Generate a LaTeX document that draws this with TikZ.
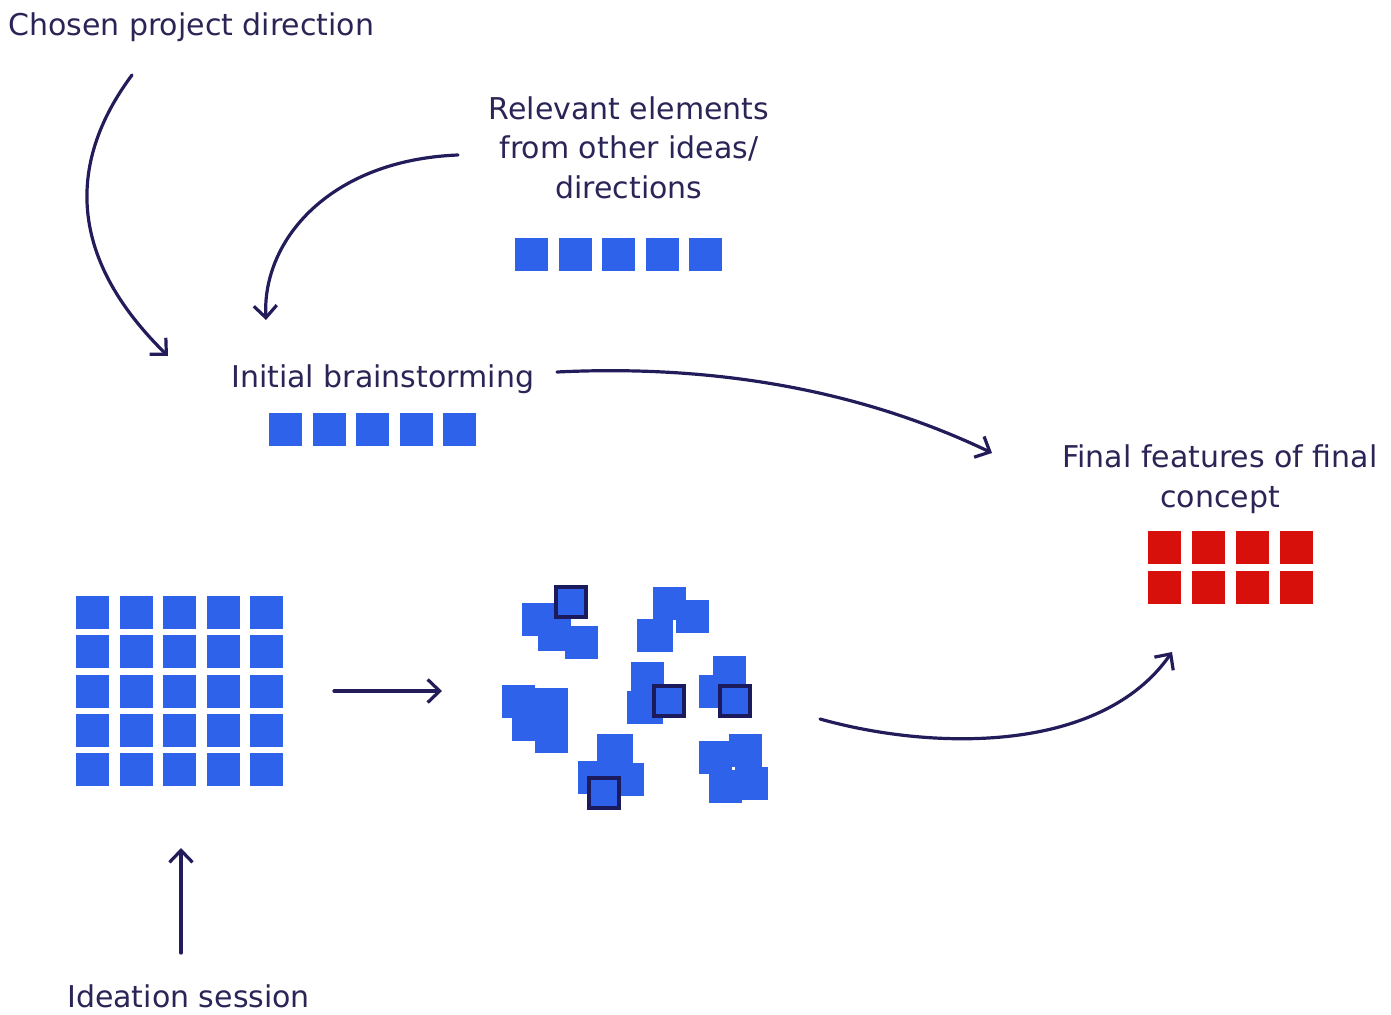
\documentclass[tikz,border=0pt]{standalone}
\usepackage{fontspec}
\setmainfont{DejaVu Sans}
\usetikzlibrary{arrows.meta}
\definecolor{ink}{HTML}{2A2556}
\definecolor{arrowink}{HTML}{221C5A}
\definecolor{tileblue}{HTML}{2F62EA}
\definecolor{tilered}{HTML}{D8100B}
\definecolor{tileedge}{HTML}{1B1A5C}
\begin{document}
\begin{tikzpicture}[x=1pt,y=-1pt,
  lbl/.style={text=ink, font=\fontsize{30}{39.5}\selectfont, inner sep=0pt},
  flow/.style={draw=arrowink, line width=3.2pt, line cap=round, line join=round,
    -{Straight Barb[length=12pt,width=23pt,line width=3.2pt]}},
  bluetile/.style={fill=tileblue},
  redtile/.style={fill=tilered},
  picked/.style={fill=tileblue, draw=tileedge, line width=3.4pt}
]
\useasboundingbox (0,0) rectangle (1391,1014);

% labels (multi-line labels are anchored at the baseline of their last line)
\node[lbl, anchor=base west] (chosen) at (8,36) {Chosen project direction};
\node[lbl, anchor=base, align=center] (relevant) at (629,198) {Relevant elements\\from other ideas/\\directions};
\node[lbl, anchor=base west] (initial) at (231,387) {Initial brainstorming};
\node[lbl, anchor=base, align=center] (final) at (1220,507) {Final features of final\\concept};
\node[lbl, anchor=base west] (ideation) at (67,1007) {Ideation session};

% row of elements from other directions
\foreach \i in {0,...,4}
  \fill[bluetile] (515+43.5*\i,238) rectangle ++(33,33);
% row of initial ideas
\foreach \i in {0,...,4}
  \fill[bluetile] (269+43.5*\i,413) rectangle ++(33,33);
% ideation session grid
\foreach \i in {0,...,4}
  \foreach \j in {0,...,4}
    \fill[bluetile] (76+43.5*\i,596+39.3*\j) rectangle ++(33,33);
% final features
\foreach \i in {0,...,3}
  \foreach \j in {0,1}
    \fill[redtile] (1148+44*\i,531+39.5*\j) rectangle ++(33,33);

% clustered ideas
\foreach \x/\y in {522/603, 538/618, 565/626,
                   653/587, 676/600, 637/619, 640/619,
                   502/685, 535/688, 512/708, 535/720,
                   631/662, 627/691, 630/691,
                   713/656, 699/675,
                   597/734, 600/734, 578/761, 611/763,
                   699/741, 729/734, 735/767, 709/770}
  \fill[bluetile] (\x,\y) rectangle ++(33,33);
% selected idea in each cluster
\foreach \x/\y in {556/587, 654/686, 720/686, 589/778}
  \filldraw[picked] (\x,\y) rectangle ++(30,30);

% connector ends
\coordinate (c1s) at (132,75);   \coordinate (c1e) at (168,356);
\coordinate (c2s) at (458,155);  \coordinate (c2e) at (266,320);
\coordinate (c3s) at (557,372);  \coordinate (c3e) at (992,453);
\coordinate (c4s) at (820,719);  \coordinate (c4e) at (1172,652);
\coordinate (c5s) at (334,691);  \coordinate (c5e) at (442,691);
\coordinate (c6s) at (181,953);  \coordinate (c6e) at (181,848);

% connectors
\draw[flow] (c1s) .. controls (65,165) and (70,260) .. (c1e);
\draw[flow] (c2s) .. controls (330,160) and (262,240) .. (c2e);
\draw[flow] (c3s) .. controls (700,365) and (850,385) .. (c3e);
\draw[flow] (c4s) .. controls (930,750) and (1100,755) .. (c4e);
\draw[flow] (c5s) -- (c5e);
\draw[flow] (c6s) -- (c6e);
\end{tikzpicture}
\end{document}
